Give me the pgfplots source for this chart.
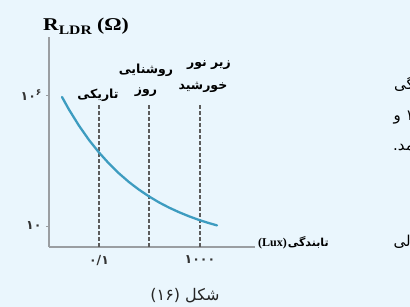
\documentclass[border=0pt]{standalone}
\usepackage{pgfplots}
\pgfplotsset{compat=1.18}
\usepackage{fontspec}
\TeXXeTstate=1
\newfontfamily\arabicfont[Script=Arabic]{DejaVu Sans}
\newfontfamily\seriffont{Liberation Serif}
\definecolor{bg}{HTML}{EAF6FD}
\definecolor{curvecol}{HTML}{3D9CC0}
\definecolor{axisgray}{HTML}{9A9EA2}
\definecolor{dashcol}{HTML}{4A4A4A}
\begin{document}
\begin{tikzpicture}[x=1pt,y=1pt]
\useasboundingbox (0,0) rectangle (410,307);
\clip (0,0) rectangle (410,307);
\fill[bg] (0,0) rectangle (410,307);
\begin{axis}[at={(49pt,60pt)}, anchor=south west, scale only axis,
  width=206pt, height=210pt, xmin=0, xmax=206, ymin=0, ymax=210,
  axis x line*=bottom, axis y line*=left,
  axis line style={-, draw=axisgray, line width=1.4pt},
  xtick={50,151}, xticklabels={۰/۱,۱۰۰۰},
  ytick={21,152}, yticklabels={۱۰,۱۰\raisebox{5pt}{\fontsize{9}{9}\selectfont ۶}},
  ticklabel style={font=\arabicfont\bfseries\fontsize{12.5}{13}\selectfont, text=black!80},
  xtick style={draw=none}, ytick style={draw=axisgray, line width=0.9pt},
  tick align=outside, major tick length=3pt,
  xticklabel style={yshift=-2pt}, yticklabel style={xshift=-1pt},
  clip=false]
\addplot[dashcol!90, line width=1.2pt, dash pattern=on 4pt off 2pt] coordinates {(50,0) (50,143)};
\addplot[dashcol!90, line width=1.2pt, dash pattern=on 4pt off 2pt] coordinates {(100,0) (100,143)};
\addplot[dashcol!90, line width=1.2pt, dash pattern=on 4pt off 2pt] coordinates {(151,0) (151,143)};
\addplot[curvecol, line width=2.3pt, line cap=round] coordinates {
(13,150) (20,137.4) (30,121.3) (40,107.0) (50,94.5) (60,83.4) (70,73.6) (80,64.9) (90,57.3) (100,50.6) (110,44.6) (120,39.4) (130,34.8) (140,30.7) (151,26.7) (160,23.9) (168,21.6)};
\node[font=\arabicfont\bfseries\fontsize{12.5}{13}\selectfont] at (axis cs:49,152) {تاریکی};
\node[font=\arabicfont\bfseries\fontsize{12.5}{13}\selectfont] at (axis cs:97,155) {روز};
\node[font=\arabicfont\bfseries\fontsize{12.5}{13}\selectfont] at (axis cs:97,177) {روشنایی};
\node[font=\arabicfont\bfseries\fontsize{12.5}{13}\selectfont] at (axis cs:160,182) {\beginR زیر نور\endR};
\node[font=\arabicfont\bfseries\fontsize{12.5}{13}\selectfont] at (axis cs:154,160) {خورشید};
\node[anchor=west, font=\seriffont\bfseries\fontsize{18}{19}\selectfont, inner sep=0pt, xscale=1.2, transform shape] at (axis cs:-6,221) {R\raisebox{-4pt}{\fontsize{13}{14}\selectfont LDR} (Ω)};
\node[anchor=west, inner sep=0pt] at (axis cs:209,4) {{\seriffont\bfseries\fontsize{12}{13}\selectfont (Lux)}\hspace{1pt}{\arabicfont\bfseries\fontsize{11}{12}\selectfont تابندگی}};
\end{axis}
\node[font=\arabicfont\fontsize{16}{17}\selectfont, text=black!85] at (185,11) {\beginR شکل (۱۶)\endR};
\node[anchor=east, font=\arabicfont\fontsize{15}{16}\selectfont, inner sep=0pt] at (414,223) {گی};
\node[anchor=east, font=\arabicfont\fontsize{15}{16}\selectfont, inner sep=0pt] at (414,189) {\beginR ۱ و\endR};
\node[anchor=east, font=\arabicfont\fontsize{15}{16}\selectfont, inner sep=0pt] at (414,159) {مد.};
\node[anchor=east, font=\arabicfont\fontsize{15}{16}\selectfont, inner sep=0pt] at (411,65) {لی};
\end{tikzpicture}
\end{document}
